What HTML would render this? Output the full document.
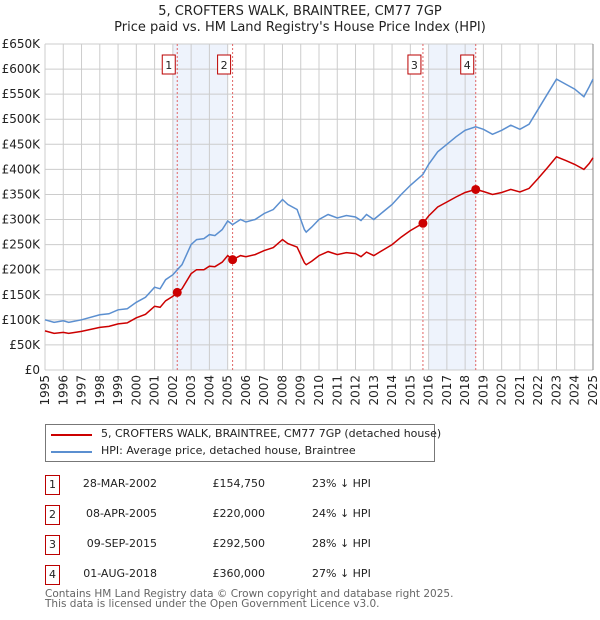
<!DOCTYPE html>
<html><head><meta charset="utf-8"><style>
body{margin:0;background:#fff;font-family:"DejaVu Sans","Liberation Sans",sans-serif;color:#222}
#wrap{position:relative;width:600px;height:620px;overflow:hidden}
.t{position:absolute;font-size:12px;white-space:nowrap}
</style></head><body><div id="wrap">
<div class="t" style="left:0;width:600px;text-align:center;top:4px;font-size:13px">5, CROFTERS WALK, BRAINTREE, CM77 7GP</div>
<div class="t" style="left:0;width:600px;text-align:center;top:20px;font-size:13px">Price paid vs. HM Land Registry's House Price Index (HPI)</div>
<svg id="chart" width="600" height="420" style="position:absolute;left:0;top:0"></svg>
<div style="position:absolute;left:45px;top:424px;width:388px;height:36px;border:1px solid #777">
<div><div style="position:absolute;left:5px;top:9px;width:41px;height:2px;background:#c00"></div><div class="t" style="left:55px;top:2px;font-size:11px">5, CROFTERS WALK, BRAINTREE, CM77 7GP (detached house)</div></div>
<div><div style="position:absolute;left:5px;top:26px;width:41px;height:2px;background:#5b8fd0"></div><div class="t" style="left:55px;top:19px;font-size:11px">HPI: Average price, detached house, Braintree</div></div>
</div>
<div id="table"></div>
<div class="t" style="left:45px;top:589px;font-size:10.5px;line-height:11px;color:#666">Contains HM Land Registry data © Crown copyright and database right 2025.</div>
<div class="t" style="left:45px;top:599px;font-size:10.5px;line-height:11px;color:#666">This data is licensed under the Open Government Licence v3.0.</div>
</div>
<script>
const years=[1995,1995.5,1996,1996.3,1997,1998,1998.5,1999,1999.5,2000,2000.5,2001,2001.3,2001.6,2002,2002.24,2002.5,2003,2003.3,2003.7,2004,2004.3,2004.7,2005,2005.27,2005.7,2006,2006.5,2007,2007.5,2008,2008.3,2008.8,2009.2,2009.3,2009.6,2010,2010.5,2011,2011.5,2012,2012.3,2012.6,2013,2013.5,2014,2014.5,2015,2015.69,2016,2016.5,2017,2017.5,2018,2018.58,2019,2019.5,2020,2020.5,2021,2021.5,2022,2022.5,2023,2023.5,2024,2024.5,2024.8,2025];
const hpi=[100,95,98,95,100,110,112,120,122,135,145,165,162,180,190,200,210,250,260,262,270,268,280,297,290,300,295,300,312,320,340,330,320,280,275,285,300,310,303,308,305,298,310,300,315,330,350,368,390,410,435,450,465,478,485,480,470,478,488,480,490,520,550,580,570,560,545,565,580];
const paid=[78,73,75,73,77,85,87,92,94,104,111,127,125,138,147,154.75,162,192,200,200,207,206,215,228,220,228,226,230,238,244,260,252,245,214,210,217,228,236,230,234,232,226,235,228,239,250,265,278,292.5,307,325,335,345,354,360,356,350,354,360,355,362,382,403,425,418,410,400,412,423];
const saleLabels=["1","2","3","4"];
const saleYears=[2002.24,2005.27,2015.69,2018.58];
const salePrices=[154.75,220,292.5,360];
const saleDates=["28-MAR-2002","08-APR-2005","09-SEP-2015","01-AUG-2018"];
const salePriceText=["£154,750","£220,000","£292,500","£360,000"];
const salePct=["23% ↓ HPI","24% ↓ HPI","28% ↓ HPI","27% ↓ HPI"];
const shadeStart=[2002.0,2016.0];
const shadeEnd=[2005.0,2018.6];
const yTicks=[0,50,100,150,200,250,300,350,400,450,500,550,600,650];
const yTickLabels=["£0","£50K","£100K","£150K","£200K","£250K","£300K","£350K","£400K","£450K","£500K","£550K","£600K","£650K"];
const xTicks=[1995,1996,1997,1998,1999,2000,2001,2002,2003,2004,2005,2006,2007,2008,2009,2010,2011,2012,2013,2014,2015,2016,2017,2018,2019,2020,2021,2022,2023,2024,2025];

const X0=45,X1=593,Y0=370,Y1=44;
const sx=y=>X0+(y-1995)/30*(X1-X0);
const sy=v=>Y0-v/650*(Y0-Y1);
const svg=document.getElementById('chart');
const NS='http://www.w3.org/2000/svg';
function mk(tag,attrs){const e=document.createElementNS(NS,tag);for(const k in attrs)e.setAttribute(k,attrs[k]);svg.appendChild(e);return e;}
for(let i=0;i<shadeStart.length;i++){
  const r=mk('rect',{x:sx(shadeStart[i]),y:Y1,width:sx(shadeEnd[i])-sx(shadeStart[i]),height:Y0-Y1,fill:'#eef3fc'});
  
  
}
xTicks.forEach(t=>{
  const l=mk('line',{x1:sx(t),x2:sx(t),y1:Y1,y2:Y0,stroke:'#ccc','stroke-width':1});
  
  
  const tx=mk('text',{x:0,y:0,transform:`translate(${sx(t)+4},${Y0+5}) rotate(-90)`,'text-anchor':'end','font-size':12,fill:'#222','font-family':'DejaVu Sans, Liberation Sans, sans-serif'});
  tx.textContent=t;
  
  
});
yTicks.forEach((t,i)=>{
  const l=mk('line',{x1:X0,x2:X1,y1:sy(t),y2:sy(t),stroke:'#ccc','stroke-width':1});
  
  
  const tx=mk('text',{x:40,y:sy(t)+4,'text-anchor':'end','font-size':12,fill:'#222','font-family':'DejaVu Sans, Liberation Sans, sans-serif'});
  tx.textContent=yTickLabels[i];
  
  
});
saleYears.forEach((y,i)=>{
  const l=mk('line',{x1:sx(y),x2:sx(y),y1:Y1,y2:Y0,stroke:'#e06666','stroke-width':1,'stroke-dasharray':'2,2'});
  
  
  const b=mk('rect',{x:sx(y)-15,y:55,width:13,height:19,fill:'#fff',stroke:'#b00','stroke-width':1});
  
  
  const tx=mk('text',{x:sx(y)-8.5,y:69,'text-anchor':'middle','font-size':11,fill:'#222','font-family':'DejaVu Sans, sans-serif'});
  tx.textContent=saleLabels[i];
  
  
});
mk('line',{x1:X1,x2:X1,y1:Y1,y2:Y0,stroke:'#888','stroke-width':1});
function path(vals,color,name){
  const d=vals.map((v,i)=>(i?'L':'M')+sx(years[i]).toFixed(1)+','+sy(v).toFixed(1)).join('');
  const p=mk('path',{d:d,fill:'none',stroke:color,'stroke-width':1.5});
  
  
}
path(hpi,'#5b8fd0','hpi-line');
path(paid,'#c00','price-paid-line');
saleYears.forEach((y,i)=>{
  const c=mk('circle',{cx:sx(y),cy:sy(salePrices[i]),r:4.5,fill:'#c00'});
  
  
});
const tb=document.getElementById('table');
const rowY=[475,505,535,565];
saleLabels.forEach((s,i)=>{
  const row=document.createElement('div');
  
  
  row.innerHTML=`<div style="position:absolute;left:45px;top:${rowY[i]}px;width:13px;height:18px;border:1px solid #b00;font-size:11px;text-align:center;line-height:18px">${s}</div>
<div class="t" style="left:57px;width:100px;text-align:right;top:${rowY[i]+2}px;font-size:11px">${saleDates[i]}</div>
<div class="t" style="left:165px;width:100px;text-align:right;top:${rowY[i]+2}px;font-size:11px">${salePriceText[i]}</div>
<div class="t" style="left:312px;top:${rowY[i]+2}px;font-size:11px">${salePct[i]}</div>`;
  tb.appendChild(row);
});
</script></body></html>
